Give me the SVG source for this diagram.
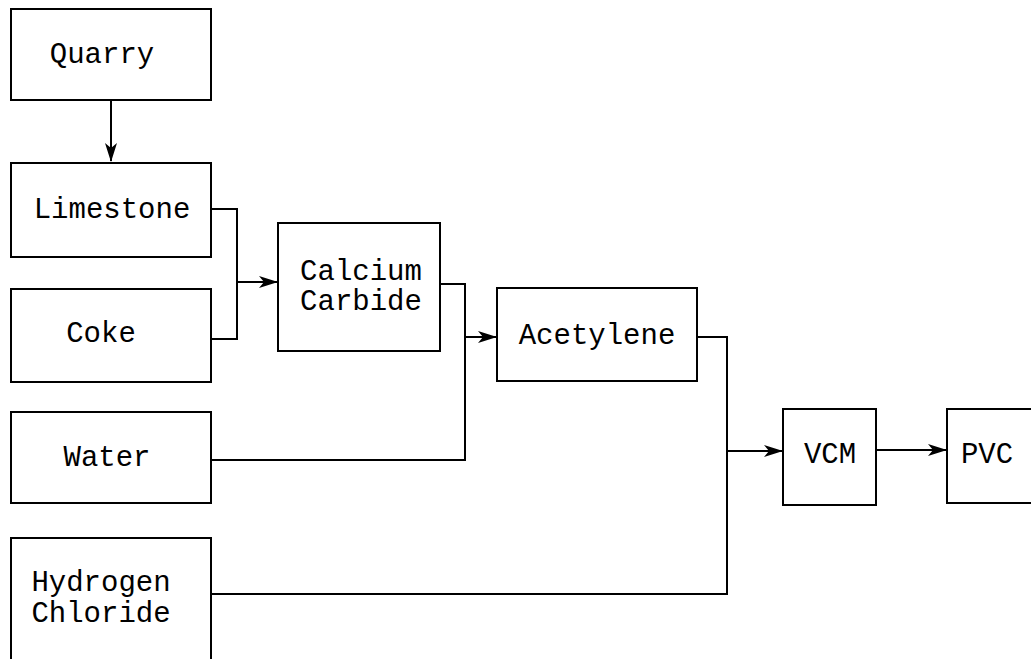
<svg xmlns="http://www.w3.org/2000/svg" width="1031" height="659" viewBox="0 0 1031 659">
<style>
.box{fill:#fff;stroke:#000;stroke-width:2}
.t{font-family:"Liberation Mono","Courier New",monospace;font-size:29px;fill:#000;text-anchor:middle}
.c{fill:none;stroke:#000;stroke-width:2}
</style>
<defs>
<marker id="ah" markerWidth="19" markerHeight="12" refX="18" refY="6" orient="auto" markerUnits="userSpaceOnUse">
<path d="M0,0 L19,6 L0,12 L5,6 Z" fill="#000"/>
</marker>
</defs>
<rect width="1031" height="659" fill="#fff"/>
<g id="connectors">
<path class="c" d="M111,101 V161" marker-end="url(#ah)"/>
<path class="c" d="M211,209 H237 V339 H211"/>
<path class="c" d="M237,282 H277" marker-end="url(#ah)"/>
<path class="c" d="M440,284 H465 V460 H211"/>
<path class="c" d="M465,337 H496" marker-end="url(#ah)"/>
<path class="c" d="M697,337 H727 V594 H211"/>
<path class="c" d="M727,451 H782" marker-end="url(#ah)"/>
<path class="c" d="M876,450 H946" marker-end="url(#ah)"/>
</g>
<g id="quarry"><rect class="box" x="11" y="9" width="200" height="91"/><text class="t" x="102" y="63">Quarry</text></g>
<g id="limestone"><rect class="box" x="11" y="163" width="200" height="94"/><text class="t" x="112" y="218">Limestone</text></g>
<g id="coke"><rect class="box" x="11" y="289" width="200" height="93"/><text class="t" x="101" y="342">Coke</text></g>
<g id="water"><rect class="box" x="11" y="412" width="200" height="91"/><text class="t" x="107" y="466">Water</text></g>
<g id="hcl"><path class="box" d="M11,659 V538 H211 V659"/><text class="t" x="101" y="591">Hydrogen</text><text class="t" x="101" y="622">Chloride</text></g>
<g id="calcium-carbide"><rect class="box" x="278" y="223" width="162" height="128"/><text class="t" x="361" y="280">Calcium</text><text class="t" x="361" y="310">Carbide</text></g>
<g id="acetylene"><rect class="box" x="497" y="288" width="200" height="93"/><text class="t" x="597" y="344">Acetylene</text></g>
<g id="vcm"><rect class="box" x="783" y="409" width="93" height="96"/><text class="t" x="830" y="463">VCM</text></g>
<g id="pvc"><path class="box" d="M1031,409 H947 V503 H1031"/><text class="t" x="987" y="463">PVC</text></g>
</svg>
